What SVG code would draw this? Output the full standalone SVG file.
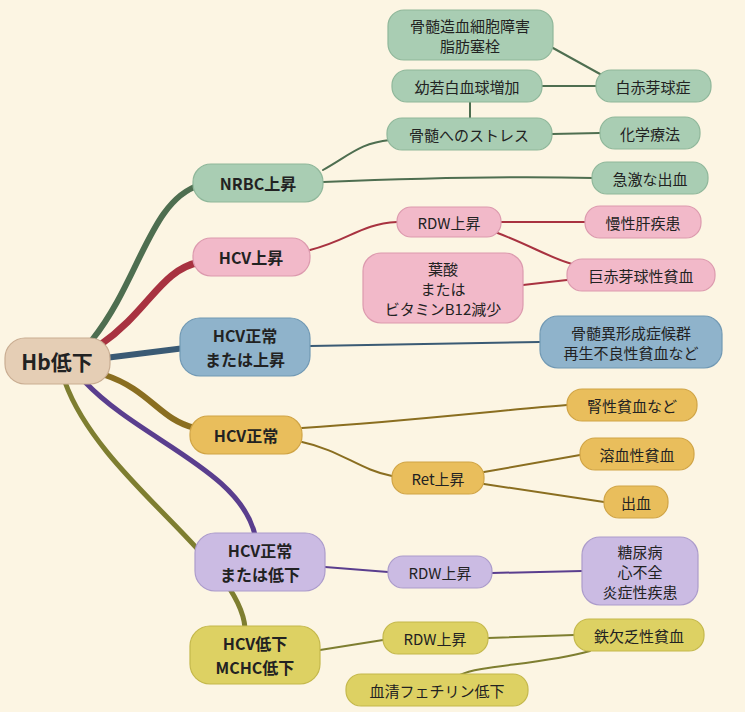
<svg xmlns="http://www.w3.org/2000/svg" width="745" height="712" viewBox="0 0 745 712">
<style>
text{font-family:"Noto Sans CJK JP","Noto Sans",sans-serif;font-size:15px;fill:#222;text-anchor:middle;dominant-baseline:central}
.b{font-weight:bold;font-size:16px}
.g{fill:#a9cdb3;stroke:#8fb79a}
.p{fill:#f2b9c9;stroke:#dc9aae}
.bl{fill:#8fb3cb;stroke:#7199b4}
.y{fill:#e9be5c;stroke:#d0a445}
.pu{fill:#cbbbe3;stroke:#ac9ccb}
.o{fill:#ddd163;stroke:#c4b84b}
rect{stroke-width:1.2}
#edges path{fill:none;stroke-linecap:round}
</style>
<rect width="745" height="712" fill="#fcf5e3"/>
<g id="edges">
<path d="M92,340 C140,280 150,200 200,185" stroke="#4e6e50" stroke-width="6"/>
<path d="M100,345 C150,310 160,270 200,262" stroke="#a83240" stroke-width="7"/>
<path d="M105,358 L185,348" stroke="#3a5a74" stroke-width="6"/>
<path d="M105,375 C150,390 160,420 195,428" stroke="#8a6e20" stroke-width="6"/>
<path d="M85,382 C140,440 240,470 255,535" stroke="#5a3e8e" stroke-width="5"/>
<path d="M65,382 C100,480 240,560 245,628" stroke="#7e7e30" stroke-width="5"/>
<g stroke-width="2">
<path d="M323,170 C350,155 360,143 390,140" stroke="#4e6e50"/>
<path d="M323,182 C420,178 520,176 593,178" stroke="#4e6e50"/>
<path d="M470,118 L470,102" stroke="#4e6e50"/>
<path d="M552,134 L600,133" stroke="#4e6e50"/>
<path d="M542,86 L596,86" stroke="#4e6e50"/>
<path d="M553,48 L600,74" stroke="#4e6e50"/>
<path d="M310,250 C350,240 360,224 397,222" stroke="#a83240"/>
<path d="M501,222 L585,222" stroke="#a83240"/>
<path d="M495,232 C530,245 550,258 572,264" stroke="#a83240"/>
<path d="M523,285 L567,280" stroke="#a83240"/>
<path d="M310,346 L540,342" stroke="#3a5a74"/>
<path d="M302,428 C420,420 500,410 567,405" stroke="#8a6e20"/>
<path d="M302,442 C340,450 360,470 392,476" stroke="#8a6e20"/>
<path d="M484,472 L580,455" stroke="#8a6e20"/>
<path d="M484,484 L604,502" stroke="#8a6e20"/>
<path d="M325,567 L388,572" stroke="#5a3e8e"/>
<path d="M492,573 L582,571" stroke="#5a3e8e"/>
<path d="M320,650 L383,640" stroke="#7e7e30"/>
<path d="M488,638 L574,635" stroke="#7e7e30"/>
<path d="M590,651 C540,665 480,665 460,675" stroke="#7e7e30"/>
</g>
</g>
<g id="root"><rect x="5" y="338" width="105" height="46" rx="20" fill="#e5ceb5" stroke="#c9ad92"/><text x="57" y="361" class="b" style="font-size:21px">Hb低下</text></g>
<g id="nrbc"><rect class="g" x="193" y="164" width="130" height="38" rx="18"/><text x="258" y="183" class="b">NRBC上昇</text></g>
<g id="hcvup"><rect class="p" x="193" y="238" width="117" height="38" rx="18"/><text x="251" y="257" class="b">HCV上昇</text></g>
<g id="hcvnu"><rect class="bl" x="180" y="318" width="130" height="58" rx="20"/><text x="245" y="335" class="b">HCV正常</text><text x="245" y="359" class="b">または上昇</text></g>
<g id="hcvn"><rect class="y" x="190" y="416" width="112" height="38" rx="18"/><text x="246" y="435" class="b">HCV正常</text></g>
<g id="hcvnd"><rect class="pu" x="195" y="533" width="130" height="58" rx="20"/><text x="260" y="550" class="b">HCV正常</text><text x="260" y="574" class="b">または低下</text></g>
<g id="hcvd"><rect class="o" x="190" y="626" width="130" height="58" rx="20"/><text x="255" y="643" class="b">HCV低下</text><text x="255" y="667" class="b">MCHC低下</text></g>
<g id="n1"><rect class="g" x="388" y="10" width="165" height="50" rx="16"/><text x="470" y="25">骨髄造血細胞障害</text><text x="470" y="45">脂肪塞栓</text></g>
<g id="n2"><rect class="g" x="596" y="70" width="115" height="32" rx="15"/><text x="653" y="86">白赤芽球症</text></g>
<g id="n3"><rect class="g" x="392" y="70" width="150" height="32" rx="15"/><text x="467" y="86">幼若白血球増加</text></g>
<g id="n4"><rect class="g" x="387" y="118" width="165" height="32" rx="15"/><text x="469" y="134">骨髄へのストレス</text></g>
<g id="n5"><rect class="g" x="600" y="117" width="100" height="32" rx="15"/><text x="650" y="133">化学療法</text></g>
<g id="n6"><rect class="g" x="592" y="162" width="116" height="32" rx="15"/><text x="650" y="178">急激な出血</text></g>
<g id="n7"><rect class="p" x="397" y="207" width="104" height="30" rx="14"/><text x="449" y="222">RDW上昇</text></g>
<g id="n8"><rect class="p" x="585" y="206" width="116" height="32" rx="15"/><text x="643" y="222">慢性肝疾患</text></g>
<g id="n9"><rect class="p" x="363" y="253" width="160" height="70" rx="18"/><text x="443" y="268">葉酸</text><text x="443" y="288">または</text><text x="443" y="308">ビタミンB12減少</text></g>
<g id="n10"><rect class="p" x="567" y="259" width="148" height="32" rx="15"/><text x="641" y="275">巨赤芽球性貧血</text></g>
<g id="n11"><rect class="bl" x="540" y="316" width="182" height="52" rx="18"/><text x="631" y="332">骨髄異形成症候群</text><text x="631" y="352">再生不良性貧血など</text></g>
<g id="n12"><rect class="y" x="567" y="389" width="130" height="32" rx="15"/><text x="632" y="405">腎性貧血など</text></g>
<g id="n13"><rect class="y" x="392" y="462" width="92" height="32" rx="15"/><text x="438" y="478">Ret上昇</text></g>
<g id="n14"><rect class="y" x="580" y="438" width="114" height="32" rx="15"/><text x="637" y="454">溶血性貧血</text></g>
<g id="n15"><rect class="y" x="604" y="486" width="64" height="32" rx="15"/><text x="636" y="502">出血</text></g>
<g id="n16"><rect class="pu" x="388" y="556" width="104" height="32" rx="15"/><text x="440" y="572">RDW上昇</text></g>
<g id="n17"><rect class="pu" x="582" y="537" width="116" height="68" rx="18"/><text x="640" y="551">糖尿病</text><text x="640" y="571">心不全</text><text x="640" y="591">炎症性疾患</text></g>
<g id="n18"><rect class="o" x="383" y="622" width="105" height="32" rx="15"/><text x="435" y="638">RDW上昇</text></g>
<g id="n19"><rect class="o" x="574" y="619" width="130" height="32" rx="15"/><text x="639" y="635">鉄欠乏性貧血</text></g>
<g id="n20"><rect class="o" x="346" y="674" width="182" height="32" rx="15"/><text x="437" y="690">血清フェチリン低下</text></g>
</svg>
